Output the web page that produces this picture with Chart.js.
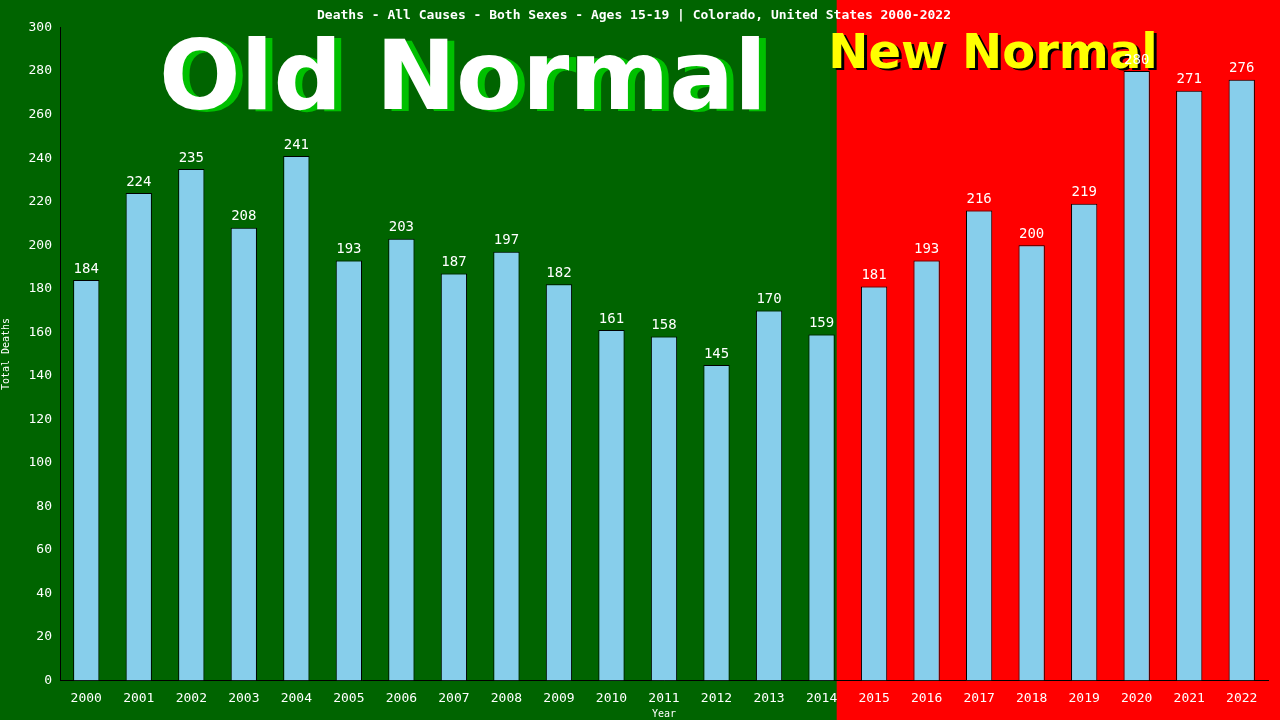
<!DOCTYPE html>
<html>
<head>
<meta charset="utf-8">
<script src="https://cdn.jsdelivr.net/npm/chart.js@4"></script>
<style>
  html, body { margin: 0; padding: 0; background: #ff0000; }
  #wrap { width: 1280px; height: 720px; }
</style>
</head>
<body>
<div id="wrap"><canvas id="chart" width="1280" height="720"></canvas></div>
<script>
const years = ['2000','2001','2002','2003','2004','2005','2006','2007','2008','2009','2010','2011',
  '2012','2013','2014','2015','2016','2017','2018','2019','2020','2021','2022'];
const deaths = [184, 224, 235, 208, 241, 193, 203, 187, 197, 182, 161, 158, 145, 170, 159,
  181, 193, 216, 200, 219, 280, 271, 276];
const lastOldIndex = 14;
const titleText = 'Deaths - All Causes - Both Sexes - Ages 15-19 | Colorado, United States 2000-2022';
const monoFont = '"DejaVu Sans Mono", monospace';

// background halves + big labels
const backdrop = {
  id: 'backdrop',
  beforeDraw: (chart) => {
    const ctx = chart.ctx;
    const x = chart.scales.x;
    const meta = chart.getDatasetMeta(0);
    const bar = meta.data[lastOldIndex];
    const split = bar.x + bar.width / 2 + 2;
    ctx.save();
    ctx.fillStyle = '#ff0000';
    ctx.fillRect(0, 0, chart.width, chart.height);
    ctx.fillStyle = '#006400';
    ctx.fillRect(0, 0, split, chart.height);

    ctx.textAlign = 'center';
    ctx.textBaseline = 'alphabetic';
    ctx.font = 'bold 96px "DejaVu Sans", sans-serif';
    ctx.fillStyle = '#00c000';
    ctx.fillText('Old Normal', 470, 111);
    ctx.fillStyle = '#ffffff';
    ctx.fillText('Old Normal', 463, 109);

    ctx.font = 'bold 48px "DejaVu Sans", sans-serif';
    ctx.fillStyle = '#000000';
    ctx.fillText('New Normal', 996, 70);
    ctx.fillStyle = '#ffff00';
    ctx.fillText('New Normal', 993, 68);
    ctx.restore();
  },
  afterDatasetsDraw: (chart) => {
    const ctx = chart.ctx;
    const meta = chart.getDatasetMeta(0);
    ctx.save();
    ctx.fillStyle = '#ffffff';
    ctx.font = '14px ' + monoFont;
    ctx.textAlign = 'center';
    ctx.textBaseline = 'bottom';
    meta.data.forEach((bar, i) => {
      ctx.fillText(String(deaths[i]), bar.x, bar.y - 4);
    });
    ctx.restore();
  }
};

new Chart(document.getElementById('chart'), {
  type: 'bar',
  data: {
    labels: years,
    datasets: [{
      data: deaths,
      backgroundColor: '#87ceeb',
      borderColor: '#000000',
      borderWidth: 1,
      barPercentage: 0.5,
      categoryPercentage: 1.0
    }]
  },
  options: {
    responsive: false,
    animation: false,
    layout: { padding: { top: 8, right: 12, left: 0, bottom: 0 } },
    plugins: {
      legend: { display: false },
      tooltip: { enabled: false },
      title: {
        display: true,
        text: titleText,
        color: '#ffffff',
        font: { family: monoFont, size: 13 },
        padding: { top: 0, bottom: 4 }
      }
    },
    scales: {
      x: {
        grid: { display: false, drawTicks: true },
        border: { color: '#000000' },
        ticks: { color: '#ffffff', font: { family: monoFont, size: 13 }, maxRotation: 0, padding: 2 },
        title: { display: true, text: 'Year', color: '#ffffff', font: { family: monoFont, size: 10 }, padding: 0 }
      },
      y: {
        min: 0,
        max: 300,
        afterFit: (s) => { s.width = 60; },
        grid: { display: false, drawTicks: true, tickLength: 6, tickColor: '#000000' },
        border: { color: '#000000' },
        ticks: { stepSize: 20, color: '#ffffff', font: { family: monoFont, size: 13 }, padding: 2 },
        title: { display: true, text: 'Total Deaths', color: '#ffffff', font: { family: monoFont, size: 10 }, padding: 0 }
      }
    }
  },
  plugins: [backdrop]
});
</script>
</body>
</html>
